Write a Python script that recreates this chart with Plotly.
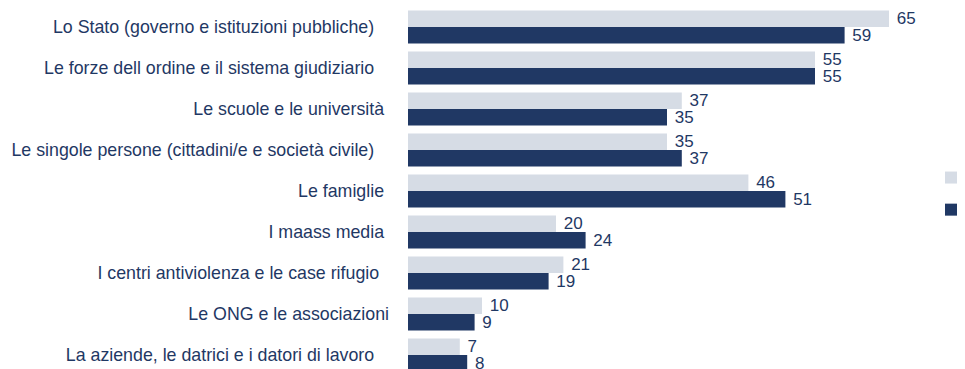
import plotly.graph_objects as go

# Survey answers: who should act (percent of respondents)
categories = [
    "Lo Stato (governo e istituzioni pubbliche)   ",
    "Le forze dell ordine e il sistema giudiziario   ",
    "Le scuole e le università ",
    "Le singole persone (cittadini/e e società civile)   ",
    "Le famiglie ",
    "I maass media ",
    "I centri antiviolenza e le case rifugio  ",
    "Le ONG e le associazioni",
    "La aziende, le datrici e i datori di lavoro   ",
]
donne = [65, 55, 37, 35, 46, 20, 21, 10, 7]
uomini = [59, 55, 35, 37, 51, 24, 19, 9, 8]
series_names = ["Donne", "Uomini"]

LIGHT = "#D6DCE5"
DARK = "#203864"
TEXT = "#1F3864"
FONT = "Liberation Sans, Arial, sans-serif"

# keep the trailing blanks of the source labels visible in SVG text
ticktext = [c.rstrip(" ") + "\u00a0" * (len(c) - len(c.rstrip(" "))) for c in categories]
positions = list(range(len(categories)))

fig = go.Figure()
for name, vals, color, grp in [(series_names[0], donne, LIGHT, "a"),
                               (series_names[1], uomini, DARK, "b")]:
    fig.add_trace(go.Bar(
        y=positions, x=vals, name=name, orientation="h",
        marker=dict(color=color, line=dict(width=0)),
        text=vals, texttemplate="\u00a0%{x}", textposition="outside",
        constraintext="none",
        textfont=dict(family=FONT, size=17, color=TEXT),
        cliponaxis=False, legendgroup=grp,
    ))

W, H = 965, 369
left, right = 408, 30
px_per_unit = 7.4
plot_w = W - left - right
cat_px = 41.0
first_center = 27.0

fig.update_layout(
    width=W, height=H,
    margin=dict(l=left, r=right, t=0, b=0, autoexpand=False),
    paper_bgcolor="white", plot_bgcolor="white",
    barmode="group", bargap=8 / 41, bargroupgap=0,
    font=dict(family=FONT, size=17, color=TEXT),
    showlegend=True,
    legend=dict(
        x=(931 - left) / plot_w, xanchor="left",
        y=1 - 160 / H, yanchor="top",
        traceorder="grouped", tracegroupgap=7,
        font=dict(family=FONT, size=17, color=TEXT),
        bgcolor="rgba(0,0,0,0)",
    ),
    xaxis=dict(range=[0, plot_w / px_per_unit], visible=False, showgrid=False, zeroline=False),
    yaxis=dict(
        range=[(H - first_center) / cat_px, -first_center / cat_px],
        tickmode="array", tickvals=positions, ticktext=ticktext,
        showgrid=False, zeroline=False, showline=False, ticks="",
        ticklabelstandoff=18,
        tickfont=dict(family=FONT, size=17.8, color=TEXT),
    ),
)

fig.write_html("out.html")
